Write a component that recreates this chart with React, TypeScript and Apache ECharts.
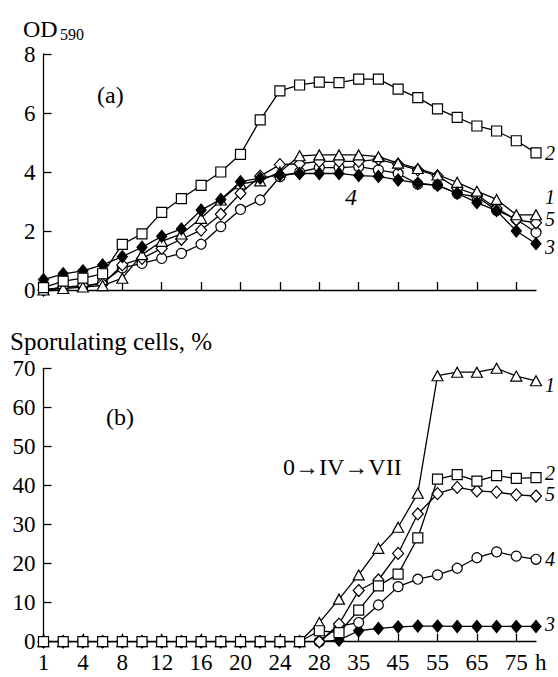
import React, { useEffect, useRef } from "react";
import * as echarts from "echarts";

// time points (h); every other one is labelled on the axis
const times = ["1", "2", "4", "6", "8", "10", "12", "14", "16", "18", "20", "22", "24", "26", "28", "31", "35", "40", "45", "50", "55", "60", "65", "70", "75", "80"];

// (a) OD590
const od1 = [0, 0.05, 0.1, 0.15, 0.4, 1.2, 1.65, 1.9, 2.43, 3.05, 3.6, 3.7, 4.0, 4.55, 4.58, 4.58, 4.58, 4.52, 4.3, 4.12, 3.9, 3.65, 3.35, 3.07, 2.55, 2.55];
const od2 = [0.08, 0.3, 0.4, 0.55, 1.55, 1.9, 2.63, 3.1, 3.55, 4.0, 4.6, 5.77, 6.75, 6.95, 7.05, 7.03, 7.15, 7.15, 6.81, 6.52, 6.14, 5.85, 5.56, 5.39, 5.06, 4.65];
const od3 = [0.35, 0.55, 0.65, 0.85, 1.13, 1.45, 1.82, 2.07, 2.71, 3.07, 3.67, 3.79, 3.9, 3.95, 3.95, 3.95, 3.88, 3.85, 3.73, 3.62, 3.55, 3.28, 2.96, 2.69, 2.0, 1.57];
const od4 = [0, 0.08, 0.12, 0.25, 0.75, 0.9, 1.07, 1.24, 1.55, 2.15, 2.73, 3.05, 3.84, 4.0, 4.15, 4.15, 4.18, 4.07, 3.95, 3.59, 3.56, 3.27, 3.16, 2.7, 2.4, 1.95];
const od5 = [0, 0.1, 0.15, 0.2, 0.85, 1.07, 1.41, 1.72, 2.03, 2.57, 3.28, 3.86, 4.25, 4.28, 4.36, 4.36, 4.36, 4.43, 4.26, 4.07, 3.87, 3.45, 3.22, 2.77, 2.38, 2.28];

// (b) sporulating cells, %
const sp1 = [0, 0, 0, 0, 0, 0, 0, 0, 0, 0, 0, 0, 0, 0, 4.9, 10.9, 17.1, 23.9, 29.3, 38.0, 68.1, 69.0, 69.0, 70.0, 68.0, 66.8];
const sp2 = [0, 0, 0, 0, 0, 0, 0, 0, 0, 0, 0, 0, 0, 0, 2.8, 2.3, 8.1, 14.3, 17.3, 26.6, 41.6, 42.8, 41.1, 42.5, 41.8, 42.0];
const sp3 = [0, 0, 0, 0, 0, 0, 0, 0, 0, 0, 0, 0, 0, 0, 0, 0.4, 2.8, 3.4, 3.8, 4.0, 4.0, 3.9, 3.9, 3.9, 3.9, 3.9];
const sp4 = [0, 0, 0, 0, 0, 0, 0, 0, 0, 0, 0, 0, 0, 0, 0, 4.0, 4.9, 9.4, 14.1, 16.0, 17.1, 18.8, 21.5, 23.0, 21.9, 21.1];
const sp5 = [0, 0, 0, 0, 0, 0, 0, 0, 0, 0, 0, 0, 0, 0, 0, 4.5, 13.1, 15.8, 22.6, 32.7, 37.9, 39.5, 38.6, 38.3, 37.6, 37.3];

const FONT = "Liberation Serif, serif";

type Style = { symbol: string; size: any; filled: boolean };
const styles: Record<string, Style> = {
  "1": { symbol: "triangle", size: [11, 10], filled: false },
  "2": { symbol: "rect", size: 10, filled: false },
  "3": { symbol: "diamond", size: [10, 12], filled: true },
  "4": { symbol: "circle", size: 10, filled: false },
  "5": { symbol: "diamond", size: [11, 12], filled: false },
};

function mk(name: string, data: number[], grid: number, endOffset: number | null, z: number) {
  const st = styles[name];
  return {
    type: "line",
    name: name + (grid === 0 ? "a" : "b"),
    xAxisIndex: grid,
    yAxisIndex: grid,
    data,
    z,
    symbol: st.symbol,
    symbolSize: st.size,
    showAllSymbol: true,
    lineStyle: { color: "#000", width: 1.3 },
    itemStyle: { color: st.filled ? "#000" : "#fff", borderColor: "#000", borderWidth: 1.2 },
    endLabel:
      endOffset === null
        ? { show: false }
        : {
            show: true,
            formatter: name,
            distance: 9,
            offset: [0, endOffset],
            color: "#000",
            fontFamily: FONT,
            fontSize: 20,
            lineHeight: 20,
            fontStyle: "italic",
          },
  };
}

const axisLabelStyle = { color: "#000", fontFamily: FONT, fontSize: 23 };

export default function App() {
  const ref = useRef<HTMLDivElement>(null);
  useEffect(() => {
    if (!ref.current) return;
    const chart = echarts.init(ref.current, null, { renderer: "svg" });
    const xAxisBase = {
      type: "category",
      data: times,
      boundaryGap: false,
      axisLine: { lineStyle: { color: "#000", width: 1.3 } },
      axisTick: { inside: true, length: 8, interval: 1, lineStyle: { color: "#000", width: 1.3 } },
      splitLine: { show: false },
    };
    const yAxisBase = {
      type: "value",
      min: 0,
      axisLine: { show: true, lineStyle: { color: "#000", width: 1.3 } },
      axisTick: { show: true, inside: true, length: 8, lineStyle: { color: "#000", width: 1.3 } },
      splitLine: { show: false },
      axisLabel: { ...axisLabelStyle, margin: 8 },
    };
    const txt = (text: string, x: number, y: number, size: number, italic = false) => ({
      type: "text",
      x,
      y,
      style: {
        text,
        fill: "#000",
        fontFamily: FONT,
        fontSize: size,
        fontStyle: italic ? "italic" : "normal",
        verticalAlign: "middle",
        align: "left",
      },
    });
    chart.setOption({
      animation: false,
      backgroundColor: "#fff",
      grid: [
        { left: 43.5, right: 22, top: 54, bottom: 387, containLabel: false },
        { left: 43.5, right: 22, top: 368.3, bottom: 35.3, containLabel: false },
      ],
      xAxis: [
        { ...xAxisBase, gridIndex: 0, axisLabel: { show: false } },
        { ...xAxisBase, gridIndex: 1, axisLabel: { ...axisLabelStyle, interval: 1, margin: 9 } },
      ],
      yAxis: [
        { ...yAxisBase, gridIndex: 0, max: 8, interval: 2 },
        { ...yAxisBase, gridIndex: 1, max: 70, interval: 10 },
      ],
      series: [
        mk("4", od4, 0, null, 2),
        mk("5", od5, 0, -4, 3),
        mk("1", od1, 0, -18, 4),
        mk("3", od3, 0, 3, 5),
        mk("2", od2, 0, 0, 6),
        mk("3", sp3, 1, -2, 2),
        mk("4", sp4, 1, 0, 3),
        mk("5", sp5, 1, -2, 4),
        mk("1", sp1, 1, 4, 5),
        mk("2", sp2, 1, -5, 6),
      ],
      graphic: [
        txt("OD", 23, 29, 24),
        txt("590", 60, 34, 16),
        txt("(a)", 97, 95, 24),
        txt("4", 345, 197, 24, true),
        txt("Sporulating cells, %", 10, 341, 25),
        txt("(b)", 106, 417, 24),
        txt("0→IV→VII", 283, 467, 24),
        txt("h", 535, 662, 23),
      ],
    });
    return () => chart.dispose();
  }, []);
  return <div ref={ref} style={{ position: "fixed", left: 0, top: 0, width: 558, height: 677 }} />;
}
